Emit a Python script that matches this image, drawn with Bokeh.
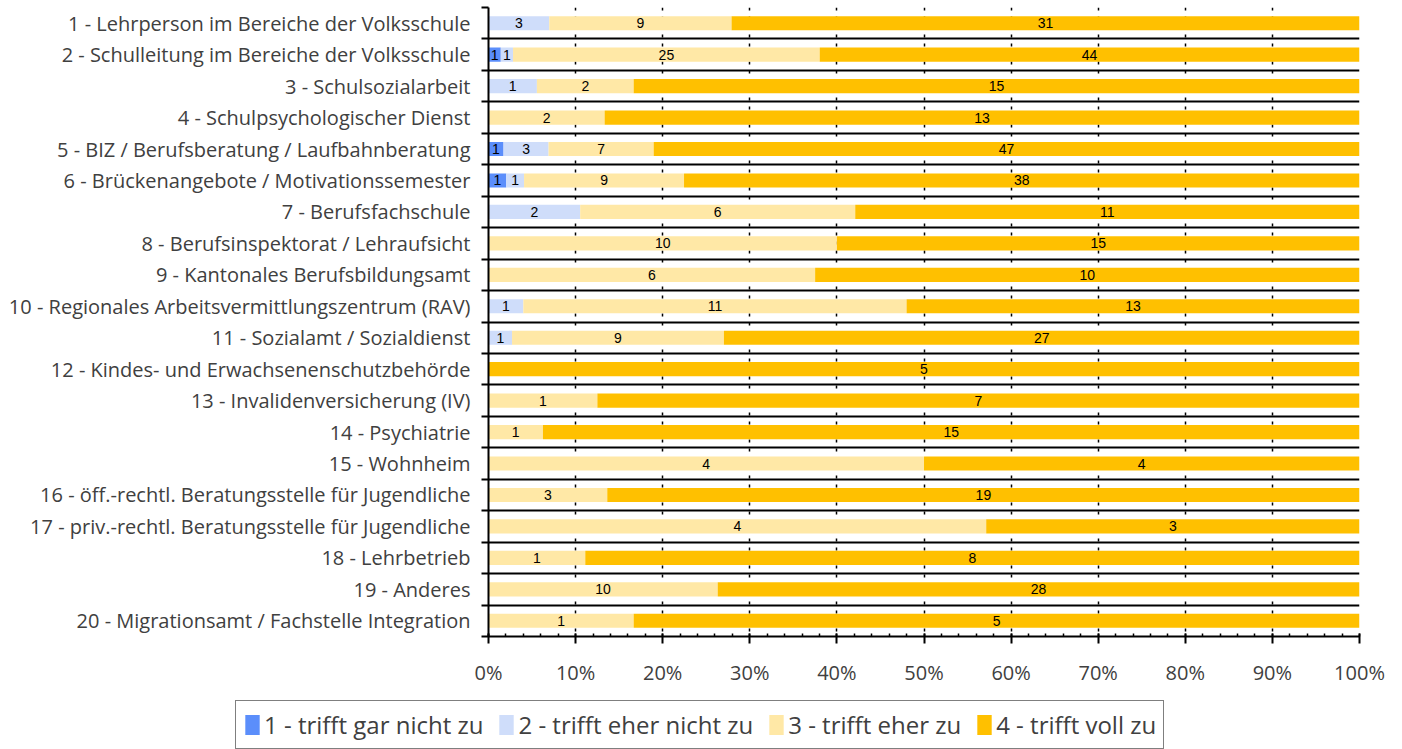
from bokeh.plotting import figure
from bokeh.layouts import column
from bokeh.models import Range1d, FixedTicker, NumeralTickFormatter, Legend, LegendItem, ColumnDataSource
from bokeh.embed import file_html
from bokeh.resources import INLINE
from bokeh.core.properties import value

categories = [
    "1 - Lehrperson im Bereiche der Volksschule",
    "2 - Schulleitung im Bereiche der Volksschule",
    "3 - Schulsozialarbeit",
    "4 - Schulpsychologischer Dienst",
    "5 - BIZ / Berufsberatung / Laufbahnberatung",
    "6 - Brückenangebote / Motivationssemester",
    "7 - Berufsfachschule",
    "8 - Berufsinspektorat / Lehraufsicht",
    "9 - Kantonales Berufsbildungsamt",
    "10 - Regionales Arbeitsvermittlungszentrum (RAV)",
    "11 - Sozialamt / Sozialdienst",
    "12 - Kindes- und Erwachsenenschutzbehörde",
    "13 - Invalidenversicherung (IV)",
    "14 - Psychiatrie",
    "15 - Wohnheim",
    "16 - öff.-rechtl. Beratungsstelle für Jugendliche",
    "17 - priv.-rechtl. Beratungsstelle für Jugendliche",
    "18 - Lehrbetrieb",
    "19 - Anderes",
    "20 - Migrationsamt / Fachstelle Integration",
]
gar_nicht = [0, 1, 0, 0, 1, 1, 0, 0, 0, 0, 0, 0, 0, 0, 0, 0, 0, 0, 0, 0]
eher_nicht = [3, 1, 1, 0, 3, 1, 2, 0, 0, 1, 1, 0, 0, 0, 0, 0, 0, 0, 0, 0]
eher = [9, 25, 2, 2, 7, 9, 6, 10, 6, 11, 9, 0, 1, 1, 4, 3, 4, 1, 10, 1]
voll = [31, 44, 15, 13, 47, 38, 11, 15, 10, 13, 27, 5, 7, 15, 4, 19, 3, 8, 28, 5]
series_names = ["1 - trifft gar nicht zu", "2 - trifft eher nicht zu",
                "3 - trifft eher zu", "4 - trifft voll zu"]
colors = ["#5B8EFB", "#CFDDFA", "#FFE8A6", "#FFC000"]
tick_values = [i / 10 for i in range(11)]

LABEL_FONT = "Open Sans"
GRAY = "#404040"

n = len(categories)
series = [gar_nicht, eher_nicht, eher, voll]
totals = [sum(s[i] for s in series) for i in range(n)]
ys = [i + 0.5 for i in range(n)]

p = figure(width=1402, height=700, x_range=Range1d(0, 1), y_range=Range1d(n, 0),
           output_backend="svg", toolbar_location=None,
           min_border_left=488, min_border_right=43, min_border_top=7, min_border_bottom=64)
p.outline_line_color = None
p.background_fill_color = "white"
p.frame_align = False

cum = [0.0] * n
tx, ty, tt = [], [], []
for s, col in zip(series, colors):
    left = cum[:]
    right = [cum[i] + s[i] / totals[i] for i in range(n)]
    src = ColumnDataSource(dict(y=ys, left=left, right=right))
    p.hbar(y="y", left="left", right="right", height=0.45, source=src,
           fill_color=col, line_color=None)
    for i in range(n):
        if s[i] > 0:
            tx.append((left[i] + right[i]) / 2)
            ty.append(ys[i])
            tt.append(str(s[i]))
    cum = right

p.text(x=tx, y=ty, text=tt, text_align="center", text_baseline="middle",
       text_font=value("Liberation Sans"), text_font_size="14px", text_color="black")

# grids
p.xgrid.ticker = FixedTicker(ticks=tick_values[1:])
p.xgrid.grid_line_color = "black"
p.xgrid.grid_line_width = 1.5
p.xgrid.grid_line_dash = "3 6"
p.ygrid.ticker = FixedTicker(ticks=list(range(n + 1)))
p.ygrid.grid_line_color = "black"
p.ygrid.grid_line_width = 2

# y axis
yax = p.yaxis[0]
yax.ticker = FixedTicker(ticks=ys, minor_ticks=list(range(n + 1)))
yax.major_label_overrides = {y: c for y, c in zip(ys, categories)}
yax.major_tick_in = 0
yax.major_tick_out = 0
yax.minor_tick_in = 0
yax.minor_tick_out = 7
yax.minor_tick_line_color = "black"
yax.minor_tick_line_width = 2
yax.axis_line_color = "black"
yax.axis_line_width = 2
yax.major_label_standoff = 11
yax.major_label_text_font = LABEL_FONT
yax.major_label_text_font_size = "20px"
yax.major_label_text_color = GRAY

# x axis
xax = p.xaxis[0]
xax.ticker = FixedTicker(ticks=tick_values, minor_ticks=[i / 50 for i in range(51)])
xax.formatter = NumeralTickFormatter(format="0%")
xax.major_tick_in = 3
xax.major_tick_out = 7
xax.minor_tick_in = 3
xax.minor_tick_out = 0
xax.major_tick_line_color = "black"
xax.major_tick_line_width = 2
xax.minor_tick_line_color = "black"
xax.minor_tick_line_width = 1.5
xax.axis_line_color = "black"
xax.axis_line_width = 2
xax.major_label_standoff = 15
xax.major_label_text_font = LABEL_FONT
xax.major_label_text_font_size = "20px"
xax.major_label_text_color = GRAY

# legend figure
lf = figure(width=1402, height=49, x_range=Range1d(0, 1), y_range=Range1d(0, 1),
            output_backend="svg", toolbar_location=None,
            x_axis_type=None, y_axis_type=None, min_border=0)
lf.outline_line_color = None
lf.xgrid.visible = False
lf.ygrid.visible = False
lf.frame_align = False
items = []
for nm, col in zip(series_names, colors):
    r = lf.hbar(y=[-50], left=[-50], right=[-40], height=0.5, fill_color=col, line_color=None)
    items.append(LegendItem(label=nm, renderers=[r]))
legend = Legend(items=items, orientation="horizontal", location=(235, 0))
legend.border_line_color = "black"
legend.border_line_width = 1.5
legend.padding = 7
legend.spacing = 14
legend.margin = 0
legend.glyph_width = 18
legend.glyph_height = 25
legend.label_standoff = 3
legend.label_text_font = LABEL_FONT
legend.label_text_font_size = "24px"
legend.label_text_color = GRAY
legend.background_fill_alpha = 1
lf.add_layout(legend)

open("out.html", "w").write(file_html(column(p, lf, spacing=0), INLINE))
